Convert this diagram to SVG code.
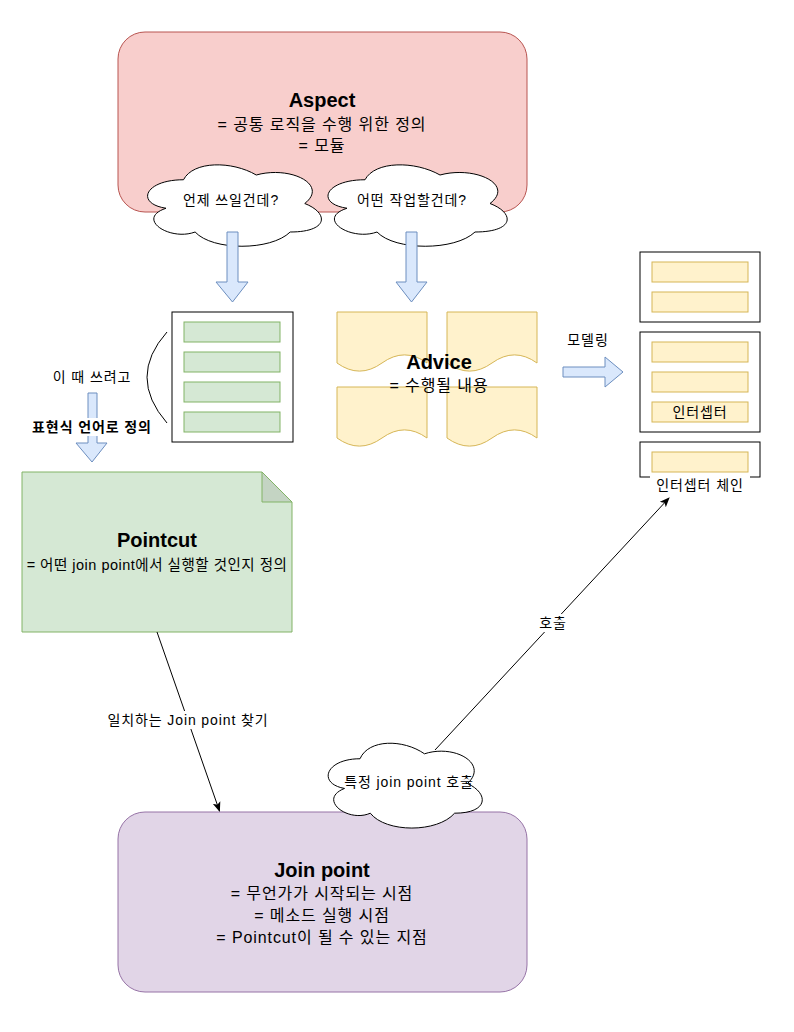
<svg xmlns="http://www.w3.org/2000/svg" width="794" height="1032" viewBox="0 0 794 1032">
<defs>
<style>
text{font-family:"Liberation Sans","Noto Sans CJK KR",sans-serif;fill:#000;text-anchor:middle}
.t{font-size:20px;font-weight:bold}
.b{font-size:16px;letter-spacing:0.9px}
.s{font-size:14px;letter-spacing:0.9px}
.sb{font-size:14px;font-weight:bold;letter-spacing:0.9px}
.pc{font-size:14.5px;letter-spacing:0.5px}
.cloud{fill:#fff;stroke:#000;stroke-width:1}
.barrow{fill:#dae8fc;stroke:#6c8ebf;stroke-width:1}
.doc{fill:#fff2cc;stroke:#d6b656;stroke-width:1}
.ybar{fill:#fff2cc;stroke:#d6b656;stroke-width:1}
.gbar{fill:#d5e8d4;stroke:#82b366;stroke-width:1}
.frame{fill:#fff;stroke:#000;stroke-width:1}
.conn{fill:none;stroke:#000;stroke-width:1}
.bg{fill:#fff}
</style>
<marker id="arr" viewBox="0 0 10 10" refX="9" refY="5" markerWidth="10" markerHeight="10" markerUnits="userSpaceOnUse" orient="auto">
<path d="M0,1 L10,5 L0,9 L2.5,5 Z" fill="#000"/>
</marker>
</defs>

<g id="aspect">
<rect x="118" y="32" width="409" height="180" rx="27" ry="27" fill="#f8cecc" stroke="#b85450"/>
<text class="t" x="322" y="107">Aspect</text>
<text class="b" x="322" y="130">= 공통 로직을 수행 위한 정의</text>
<text class="b" x="322" y="151">= 모듈</text>
</g>

<g id="cloud-when">
<path class="cloud" d="M183.5,179.75 C144.7,179.75 135,203.5 166,208.25 C135,218.7 169.9,241.5 195.1,232 C212.6,251 270.8,251 290.2,232 C329,232 329,213 304.75,203.5 C329,184.5 290.2,165.5 256.25,175 C232,160.75 193.2,160.75 183.5,179.75 Z"/>
<text class="s" x="231" y="205">언제 쓰일건데?</text>
</g>

<g id="cloud-what">
<path class="cloud" d="M365,179.75 C325,179.75 315,203.5 347,208.25 C315,218.7 351,241.5 377,232 C395,251 455,251 475,232 C515,232 515,213 490,203.5 C515,184.5 475,165.5 440,175 C415,160.75 375,160.75 365,179.75 Z"/>
<text class="s" x="412" y="205">어떤 작업할건데?</text>
</g>

<g id="when-box">
<rect class="frame" x="172" y="312" width="121" height="130"/>
<rect class="gbar" x="184" y="322" width="96" height="20"/>
<rect class="gbar" x="184" y="352" width="96" height="20"/>
<rect class="gbar" x="184" y="382" width="96" height="20"/>
<rect class="gbar" x="184" y="412" width="96" height="20"/>
</g>

<g id="advice">
<path class="doc" d="M337,312 L427,312 L427,363 Q404.5,346.8 382,363 Q359.5,379.2 337,363 Z"/>
<path class="doc" d="M447,312 L537,312 L537,363 Q514.5,346.8 492,363 Q469.5,379.2 447,363 Z"/>
<path class="doc" d="M337,387 L427,387 L427,438 Q404.5,421.8 382,438 Q359.5,454.2 337,438 Z"/>
<path class="doc" d="M447,387 L537,387 L537,438 Q514.5,421.8 492,438 Q469.5,454.2 447,438 Z"/>
<text class="t" x="439" y="369">Advice</text>
<text class="b" x="439" y="391">= 수행될 내용</text>
</g>

<g id="interceptor-group-1">
<rect class="frame" x="640" y="252" width="120" height="70"/>
<rect class="ybar" x="652" y="262" width="96" height="20"/>
<rect class="ybar" x="652" y="292" width="96" height="20"/>
</g>

<g id="interceptor-group-2">
<rect class="frame" x="640" y="332" width="120" height="100"/>
<rect class="ybar" x="652" y="342" width="96" height="20"/>
<rect class="ybar" x="652" y="372" width="96" height="20"/>
<rect class="ybar" x="652" y="402" width="96" height="20"/>
<text class="s" x="700" y="417">인터셉터</text>
</g>

<g id="interceptor-chain">
<rect class="frame" x="640" y="442" width="120" height="35"/>
<rect class="ybar" x="652" y="452" width="96" height="20"/>
<rect class="bg" x="650" y="476" width="100" height="18"/>
<text class="s" x="700" y="490">인터셉터 체인</text>
</g>

<g id="pointcut">
<path d="M22,472 L262,472 L292,502 L292,632 L22,632 Z" fill="#d5e8d4" stroke="#82b366"/>
<path d="M262,472 L262,502 L292,502 Z" fill="#c4d4c3" stroke="#82b366"/>
<text class="t" x="157" y="547">Pointcut</text>
<text class="pc" x="157" y="570">= 어떤 join point에서 실행할 것인지 정의</text>
</g>

<g id="joinpoint">
<rect x="118" y="812" width="409" height="180" rx="27" ry="27" fill="#e1d5e7" stroke="#9673a6"/>
<text class="t" x="322" y="877">Join point</text>
<text class="b" x="322" y="899">= 무언가가 시작되는 시점</text>
<text class="b" x="322" y="921">= 메소드 실행 시점</text>
<text class="b" x="322" y="943">= Pointcut이 될 수 있는 지점</text>
</g>

<g id="cloud-call">
<path class="cloud" d="M360,758.75 C325.6,758.75 317,783.5 344.5,788.45 C317,799.3 348,823.1 370.3,813.2 C385.8,833 437.4,833 454.6,813.2 C489,813.2 489,793.4 467.5,783.5 C489,763.7 454.6,743.9 424.5,753.8 C403,738.95 368.6,738.95 360,758.75 Z"/>
<text class="s" x="409" y="787">특정 join point 호출</text>
</g>

<g id="connectors">
<path class="barrow" d="M227,232 L238,232 L238,282 L248,282 L232.5,302 L216,282 L227,282 Z"/>
<path class="barrow" d="M406,232 L417,232 L417,282 L427,282 L411.5,302 L396,282 L406,282 Z"/>
<path class="barrow" d="M563,367 L605,367 L605,357 L623,372 L605,387 L605,377 L563,377 Z"/>
<path class="barrow" d="M88,393 L97,393 L97,443 L107,443 L92,462 L76,443 L88,443 Z"/>
<path class="conn" d="M167,332 Q127,377 167,423"/>
<path class="conn" d="M157,632 L219.5,811" marker-end="url(#arr)"/>
<path class="conn" d="M435,750 L669,498" marker-end="url(#arr)"/>
<text class="s" x="92" y="382">이 때 쓰려고</text>
<rect class="bg" x="30" y="418" width="124" height="18"/>
<text class="sb" x="92" y="432">표현식 언어로 정의</text>
<text class="s" x="588" y="345">모델링</text>
<rect class="bg" x="106" y="711" width="164" height="18"/>
<text class="s" x="188" y="725">일치하는 Join point 찾기</text>
<rect class="bg" x="537" y="614" width="32" height="18"/>
<text class="s" x="553" y="628">호출</text>
</g>
</svg>
